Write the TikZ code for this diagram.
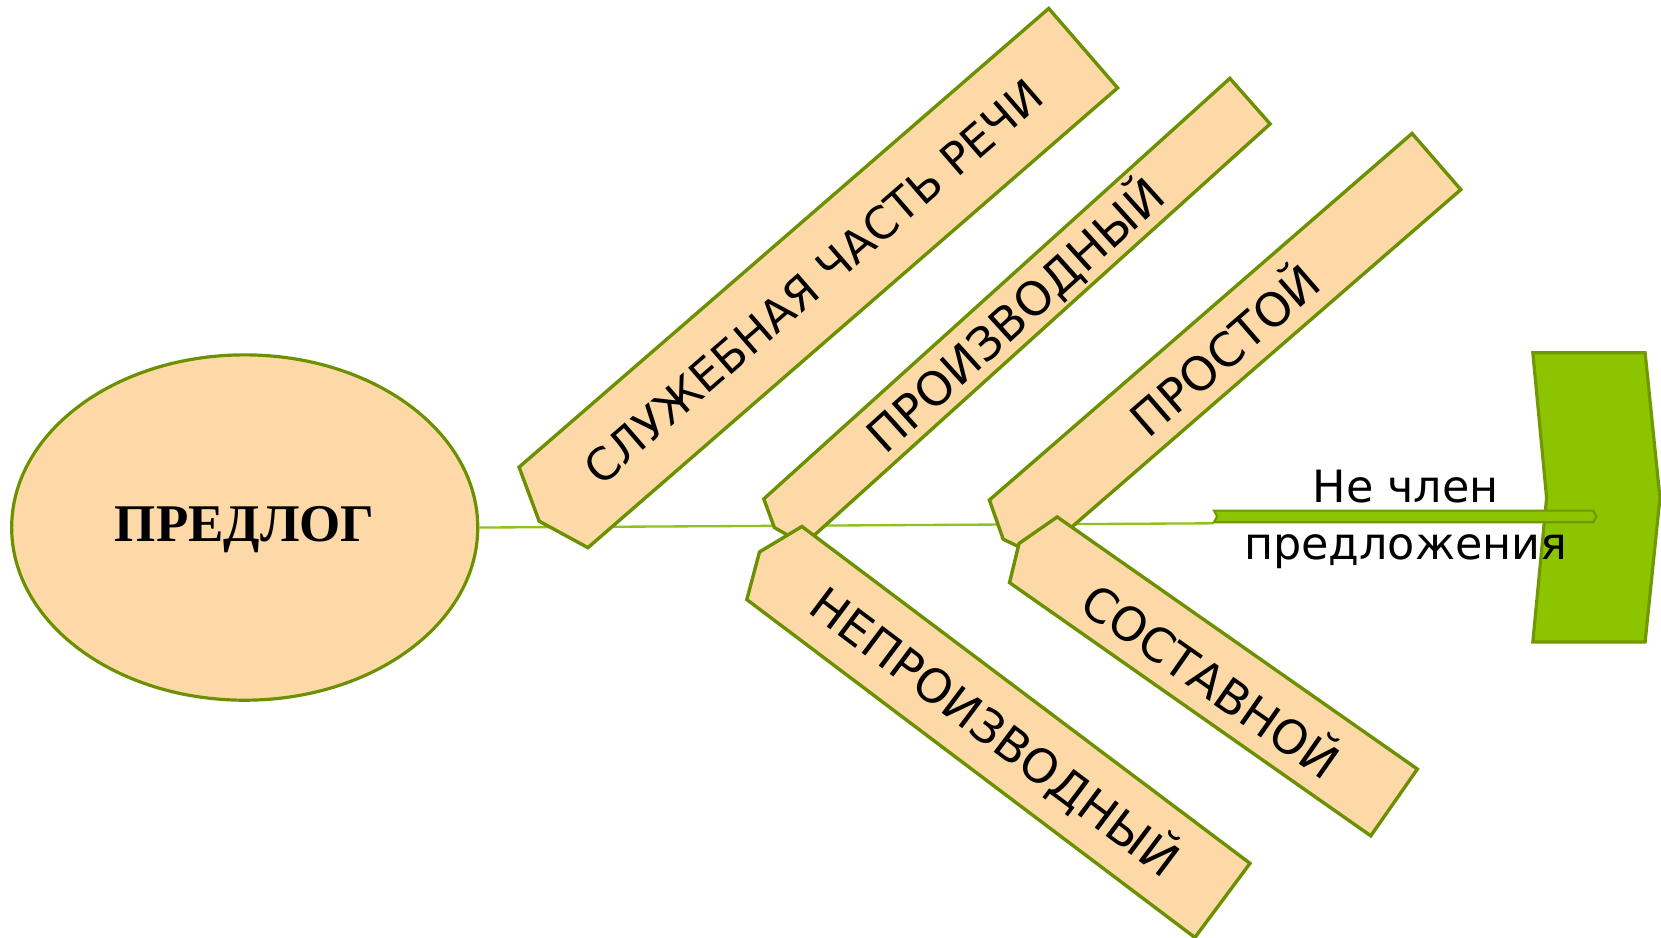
\documentclass[tikz,border=0pt]{standalone}
\usepackage{fontspec}
\setmainfont{DejaVu Sans}
\newfontfamily\serifbold{Liberation Serif}
\usetikzlibrary{shapes.geometric}
\definecolor{peach}{HTML}{FDD9A8}
\definecolor{olive}{HTML}{6B9000}
\definecolor{lime}{HTML}{8DC400}
\definecolor{linegreen}{HTML}{8DC21F}
\tikzset{
  tagbox/.style={fill=peach, draw=olive, line width=3.2pt, line join=miter},
  boxtext/.style={font=\fontsize{44}{50}\selectfont, inner sep=0pt},
  mainline/.style={draw=linegreen, line width=2.2pt},
  greenshape/.style={fill=lime, draw=olive!85!lime, line width=3pt},
}
\begin{document}
\begin{tikzpicture}[x=1pt, y=-1pt]
\useasboundingbox (0,0) rectangle (1568,885);
% central ellipse
\node[ellipse, fill=peach, draw=olive, line width=3pt, minimum width=440pt, minimum height=326pt, inner sep=0pt] (pred) at (231,498) {};
\coordinate (barL) at (1146,494);
\draw[mainline] (pred.east) -- (barL);
\node[font=\serifbold\bfseries\fontsize{50}{56}\selectfont] (predt) at (231,500) {ПРЕДЛОГ};
% green chevron target
\draw[greenshape] (1447,333) -- (1553,333) -- (1567,470) -- (1553,606) -- (1447,606) -- (1460,470) -- cycle;
% thin green bar
\draw[fill=lime, draw=olive!85!lime, line width=2pt] (1146,482) -- (1504,482) -- (1507,487.5) -- (1504,493) -- (1146,493) -- (1149,487.5) -- cycle;
% upper boxes
\draw[tagbox] (490,441) -- (990,8) -- (1055,83) -- (555,517) -- (509,492) -- cycle;
\node[boxtext, font=\fontsize{42}{48}\selectfont, rotate=40.9] (t1) at (768,266) {СЛУЖЕБНАЯ ЧАСТЬ РЕЧИ};
\draw[tagbox] (721,471) -- (1161,74) -- (1199,117) -- (759,514) -- (731,498) -- cycle;
\node[boxtext, rotate=42.1] (t2) at (958,297) {ПРОИЗВОДНЫЙ};
\draw[tagbox] (934,472) -- (1333,126) -- (1379,179) -- (980,525) -- (947,509) -- cycle;
\node[boxtext, rotate=40.9] (t3) at (1154,328) {ПРОСТОЙ};
% lower boxes
\draw[tagbox] (705,566) -- (717,521) -- (757,497) -- (1180,815) -- (1128,885) -- cycle;
\node[boxtext, rotate=-36.9] (t4) at (940,690) {НЕПРОИЗВОДНЫЙ};
\draw[tagbox] (953,550) -- (962,513) -- (998,488) -- (1338,726) -- (1294,789) -- cycle;
\node[boxtext, rotate=-35] (t5) at (1145,640) {СОСТАВНОЙ};
% label
\node[align=center, font=\fontsize{42}{54}\selectfont, inner sep=0pt] (lbl) at (1327,490) {Не член\\предложения};
\end{tikzpicture}
\end{document}
